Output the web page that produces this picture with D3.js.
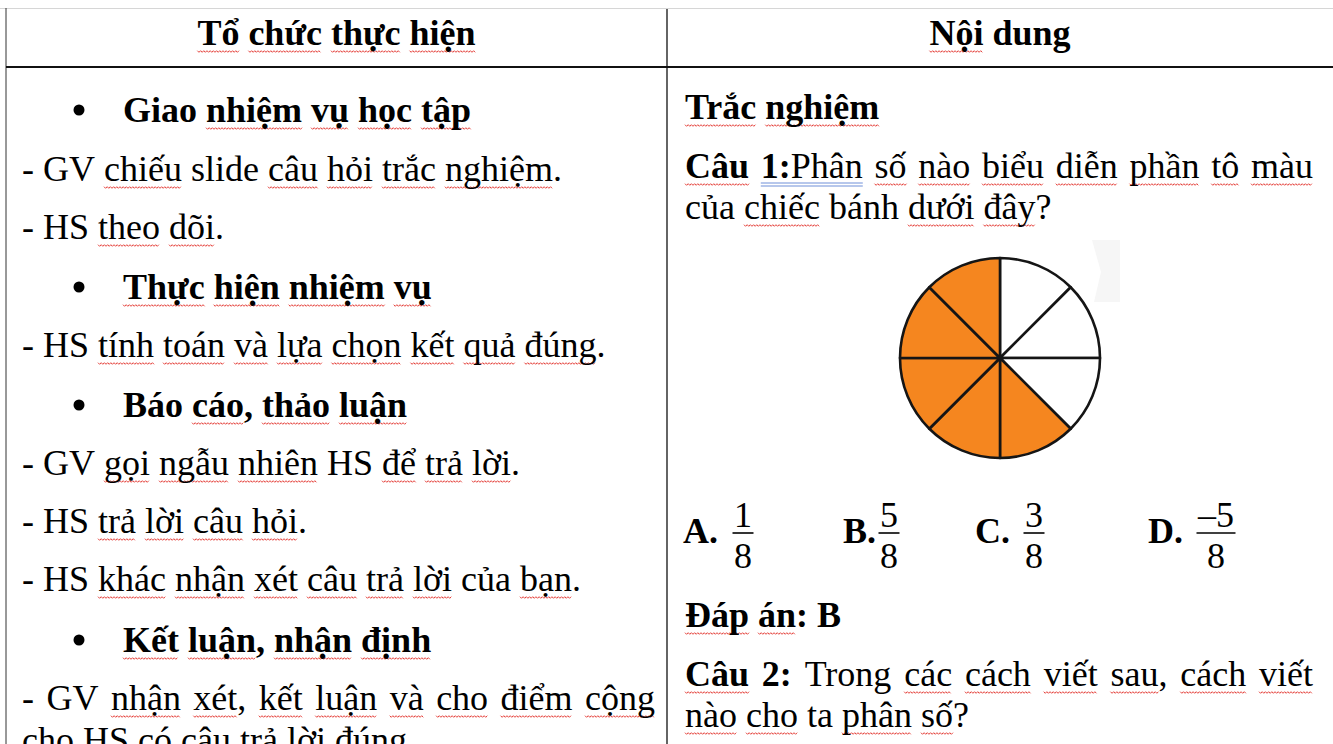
<!DOCTYPE html>
<html>
<head>
<meta charset="utf-8">
<script src="https://cdn.jsdelivr.net/npm/d3@7"></script>
<style>
  body { margin: 0; background: #fff; }
  svg { display: block; }
</style>
</head>
<body>
<div id="page"></div>
<script>
'use strict';

// Text of the table. Token prefixes: "!" bold, "~" no red squiggle,
// "^" blue double underline (no squiggle), "+" glued to previous token
const headerCells = ["Tổ chức thực hiện", "Nội ~dung"];

const leftLines = [
  { t: "~Giao nhiệm vụ học tập", bullet: true, bold: true },
  { t: "- ~GV chiếu ~slide câu hỏi trắc nghiệm." },
  { t: "- ~HS theo dõi." },
  { t: "Thực hiện nhiệm vụ", bullet: true, bold: true },
  { t: "- ~HS tính toán và lựa chọn kết quả đúng." },
  { t: "~Báo cáo, thảo luận", bullet: true, bold: true },
  { t: "- ~GV gọi ngẫu nhiên ~HS để trả lời." },
  { t: "- ~HS trả lời câu hỏi." },
  { t: "- ~HS khác nhận xét câu trả lời ~của bạn." },
  { t: "Kết luận, nhận định", bullet: true, bold: true },
  { t: "- ~GV nhận xét, kết luận và cho điểm cộng", justify: true },
  { t: "cho ~HS có câu trả lời đúng." }
];
const leftBaselines = [122, 181, 239, 299, 357, 417, 475, 533, 591, 652, 710, 752];

const rightLines = [
  { t: "Trắc nghiệm", bold: true },
  { t: "!Câu !^1: ^+Phân số nào biểu diễn phần tô màu", justify: true },
  { t: "~của chiếc ~bánh dưới đây?" },
  { t: "!Đáp !án: !~B" },
  { t: "!Câu !2: ~Trong các cách viết sau, cách viết", justify: true },
  { t: "nào cho ~ta phân số?" }
];
const rightBaselines = [119, 178, 219, 627, 686, 727];

// Pie: 8 equal pieces clockwise from 12 o'clock, 1 = coloured
const pieShaded = [0, 0, 0, 1, 1, 1, 1, 1];

// Answer options
const optionLabels = ["A.", "B.", "C.", "D."];
const numerators = ["1", "5", "3", "–5"];
const denominators = ["8", "8", "8", "8"];

// Layout
const width = 1333;
const height = 744;
const colX = [6, 667, 1333];
const headerY = 67;
const fontSize = 36;
const FONT = "'Liberation Serif', 'Times New Roman', serif";
const optionLabelX = [683, 843, 975, 1148];
const optionFracX = [743, 889, 1034, 1216];

const svg = d3.select("#page").append("svg")
    .attr("width", width)
    .attr("height", height)
    .attr("viewBox", "0 0 " + width + " " + height)
    .style("font-family", FONT)
    .style("font-size", fontSize + "px");

svg.append("rect").attr("width", width).attr("height", height).attr("fill", "#fff");

// Measuring helper
const probe = svg.append("text").attr("x", -1000).attr("y", -1000);
function measure(str, bold) {
  probe.attr("font-weight", bold ? "bold" : "normal").text(str);
  return probe.node().getComputedTextLength();
}
const spaceW = measure("a a") - measure("aa");

function parseLine(line) {
  return line.t.split(" ").map(function (raw) {
    let tk = { bold: !!line.bold, red: true, blue: false, glue: false };
    let s = raw;
    while ("!~^+".indexOf(s[0]) >= 0 && s.length > 1) {
      if (s[0] === "!") tk.bold = true;
      if (s[0] === "~") tk.red = false;
      if (s[0] === "^") { tk.blue = true; tk.red = false; }
      if (s[0] === "+") tk.glue = true;
      s = s.slice(1);
    }
    tk.text = s;
    if (!/[A-Za-zÀ-ỹĐđ]/.test(s)) tk.red = false;
    return tk;
  });
}

function layout(toks, x0, x1, justify) {
  toks.forEach(t => t.w = measure(t.text, t.bold));
  const gaps = toks.filter((t, i) => i > 0 && !t.glue).length;
  const total = d3.sum(toks, t => t.w);
  const gap = justify && gaps ? (x1 - x0 - total) / gaps : spaceW;
  let cx = x0;
  toks.forEach((t, i) => {
    if (i > 0 && !t.glue) cx += gap;
    t.x = cx;
    cx += t.w;
  });
  return cx - x0;
}

// Faint scan artefact right of the pie
svg.append("path")
    .attr("d", "M1092,240 L1120,240 L1120,302 L1094,302 L1101,272 Z")
    .attr("fill", "#f6f6f6");

const squiggle = svg.append("g").attr("fill", "none").attr("stroke", "#e5413b").attr("stroke-width", 1);
const blueLines = svg.append("g").attr("stroke", "#6f8fd8").attr("stroke-width", 1);
const textG = svg.append("g").attr("fill", "#000");

function wave(x0, x1, y) {
  const pts = [];
  for (let x = x0, k = 0; x <= x1; x += 1.6, k++) pts.push([x, y + (k % 2 ? 1.3 : -0.3)]);
  return d3.line()(pts);
}

function drawTokens(toks, y) {
  textG.selectAll(null)
    .data(toks)
    .enter()
    .append("text")
    .attr("x", d => d.x)
    .attr("y", y)
    .attr("font-weight", d => d.bold ? "bold" : "normal")
    .text(d => d.text);

  toks.filter(d => d.red).forEach(function (d) {
    const core = d.text.replace(/[.,:?]+$/, "");
    const w = measure(core, d.bold);
    squiggle.append("path").attr("d", wave(d.x, d.x + w, y + 6));
  });

  const blue = toks.filter(d => d.blue);
  if (blue.length) {
    const bx0 = blue[0].x;
    const last = blue[blue.length - 1];
    const bx1 = last.x + last.w;
    [5, 8].forEach(function (dy) {
      blueLines.append("line")
        .attr("x1", bx0).attr("x2", bx1)
        .attr("y1", y + dy).attr("y2", y + dy);
    });
  }
}

// Table lines
svg.append("line").attr("x1", 0).attr("x2", width).attr("y1", 8.5).attr("y2", 8.5)
    .attr("stroke", "#d6d6d6").attr("stroke-width", 1);
svg.append("line").attr("x1", colX[0]).attr("x2", colX[0]).attr("y1", 8).attr("y2", height)
    .attr("stroke", "#333").attr("stroke-width", 1);
svg.append("line").attr("x1", colX[1]).attr("x2", colX[1]).attr("y1", 9).attr("y2", height)
    .attr("stroke", "#111").attr("stroke-width", 1.3);
svg.append("line").attr("x1", colX[0]).attr("x2", width).attr("y1", headerY).attr("y2", headerY)
    .attr("stroke", "#111").attr("stroke-width", 2);

// Header
headerCells.forEach(function (h, i) {
  const toks = parseLine({ t: h, bold: true });
  const w = layout(toks, 0, 0, false);
  const cx = (colX[i] + colX[i + 1]) / 2;
  toks.forEach(t => t.x += cx - w / 2);
  drawTokens(toks, 45);
});

// Left column
leftLines.forEach(function (line, i) {
  const y = leftBaselines[i];
  const x0 = line.bullet ? 123 : 22;
  const toks = parseLine(line);
  layout(toks, x0, 655, line.justify);
  drawTokens(toks, y);
  if (line.bullet) {
    svg.append("circle").attr("cx", 79).attr("cy", y - 12).attr("r", 5.5).attr("fill", "#000");
  }
});

// Right column
rightLines.forEach(function (line, i) {
  const toks = parseLine(line);
  layout(toks, 685, 1313, line.justify);
  drawTokens(toks, rightBaselines[i]);
});

// Pie
const pie = d3.pie().value(1).sort(null);
const arc = d3.arc().innerRadius(0).outerRadius(100);
svg.append("g")
    .attr("transform", "translate(1000,358)")
    .selectAll("path")
    .data(pie(pieShaded))
    .enter()
    .append("path")
    .attr("d", arc)
    .attr("fill", d => d.data ? "#f5861f" : "#fff")
    .attr("stroke", "#151515")
    .attr("stroke-width", 2.6)
    .attr("stroke-linejoin", "round");

// Options
const opts = svg.append("g");
optionLabels.forEach(function (lab, i) {
  opts.append("text")
    .attr("x", optionLabelX[i]).attr("y", 543)
    .attr("font-weight", "bold")
    .text(lab);
  const cx = optionFracX[i];
  const w = Math.max(measure(numerators[i], false), measure(denominators[i], false)) + 3;
  opts.append("text")
    .attr("x", cx).attr("y", 527)
    .attr("text-anchor", "middle")
    .text(numerators[i]);
  opts.append("text")
    .attr("x", cx).attr("y", 568)
    .attr("text-anchor", "middle")
    .text(denominators[i]);
  opts.append("line")
    .attr("x1", cx - w / 2).attr("x2", cx + w / 2)
    .attr("y1", 533).attr("y2", 533)
    .attr("stroke", "#000").attr("stroke-width", 1.6);
});

probe.remove();
</script>
</body>
</html>
